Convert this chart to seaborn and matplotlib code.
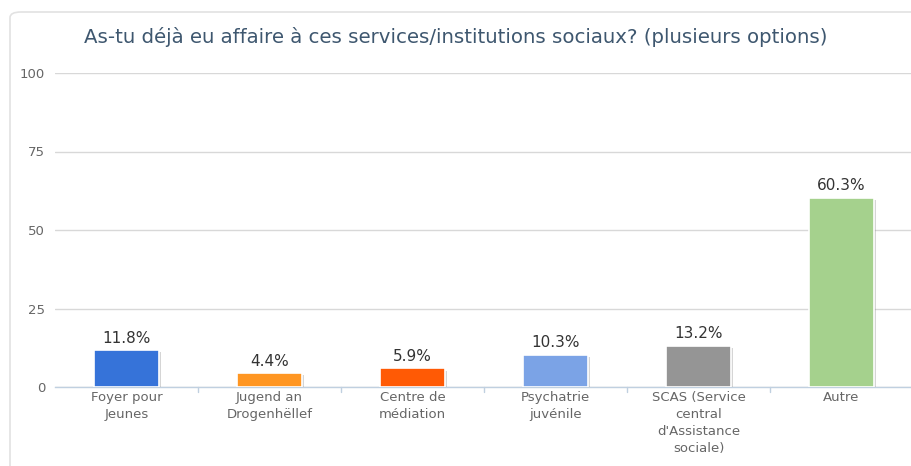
import seaborn as sns
import matplotlib.pyplot as plt
import matplotlib.patheffects as pe
from matplotlib.patches import FancyBboxPatch
import pandas as pd

# Chart data
categories = ['Foyer pour\nJeunes', 'Jugend an\nDrogenhëllef', 'Centre de\nmédiation',
              'Psychatrie\njuvénile', 'SCAS (Service\ncentral\nd\'Assistance\nsociale)', 'Autre']
values = [11.8, 4.4, 5.9, 10.3, 13.2, 60.3]
colors = ['#3673d9', '#ff9622', '#ff5a05', '#7ba3e6', '#959595', '#a5d18d']
y_ticks = [0, 25, 50, 75, 100]

data = pd.DataFrame({'Service': categories, 'Pourcentage': values})

sns.set_style('white')
plt.rcParams['font.family'] = ['DejaVu Sans']

W, H = 912, 466
fig = plt.figure(figsize=(W / 100, H / 100), dpi=100)

# card border (rounded, runs off right and bottom edges)
card = FancyBboxPatch((10 / W, -0.05), 1.2, (H - 12) / H + 0.05,
                      boxstyle='round,pad=0,rounding_size=0.012',
                      transform=fig.transFigure, facecolor='white',
                      edgecolor='#e2e2e2', linewidth=1.2, zorder=-1)
fig.patches.append(card)

ax = fig.add_axes([55 / W, (H - 387) / H, 858 / W, 314 / H])
ax.set_facecolor('none')

sns.barplot(data=data, x='Service', y='Pourcentage', hue='Service',
            palette=colors, saturation=1, legend=False, width=0.45, ax=ax,
            edgecolor='white', linewidth=1.2, zorder=3)

for bar in ax.patches:
    bar.set_path_effects([pe.SimplePatchShadow(offset=(1.5, -1.5), shadow_rgbFace='#888888', alpha=0.35),
                          pe.Normal()])

for i, v in enumerate(values):
    ax.annotate(f'{v}%', (i, v), xytext=(0, 3), textcoords='offset points',
                ha='center', va='bottom', fontsize=11, color='#333333', zorder=5)

ax.set_xlim(-0.5, len(categories) - 0.5)
ax.set_ylim(0, 100)
ax.set_yticks(y_ticks)
ax.yaxis.grid(True, color='#d8d8d8', linewidth=1)
ax.set_axisbelow(True)
for s in ['top', 'right', 'left']:
    ax.spines[s].set_visible(False)
ax.spines['bottom'].set_color('#c0d0e0')
ax.spines['bottom'].set_linewidth(1)

ax.set_xlabel('')
ax.set_ylabel('')
ax.tick_params(axis='y', length=0, pad=7, labelsize=9.5, labelcolor='#666666')
ax.tick_params(axis='x', length=0, pad=3, labelsize=9.5, labelcolor='#666666')
for lbl in ax.get_xticklabels():
    lbl.set_linespacing(1.4)

# category boundary ticks
for b in range(1, len(categories)):
    ax.plot([b - 0.5, b - 0.5], [0, -1.6], color='#c0d0e0', linewidth=1, clip_on=False)

fig.text(0.5, (H - 43) / H, 'As-tu déjà eu affaire à ces services/institutions sociaux? (plusieurs options)',
         ha='center', va='baseline', fontsize=14.2, color='#3e576f')

plt.savefig('out.png', dpi=100)
